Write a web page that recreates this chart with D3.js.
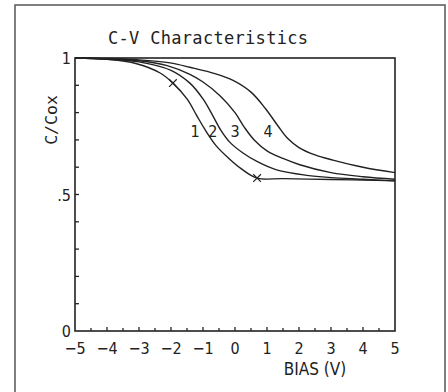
<!DOCTYPE html>
<html lang="en">
<head>
<meta charset="utf-8">
<title>C-V Characteristics</title>
<script src="https://cdn.jsdelivr.net/npm/d3@7"></script>
<style>
  body { margin: 0; background: #fff; }
  text { fill: #222; }
</style>
</head>
<body>
<script>
// curves: [bias (V), C/Cox]
var curve1 = [[-5, 1.0], [-4, 0.995], [-3.1, 0.98], [-2.34, 0.945], [-1.94, 0.908], [-1.5, 0.85],
              [-1.2, 0.79], [-0.95, 0.74], [-0.6, 0.68], [-0.2, 0.633], [0.2, 0.594], [0.69, 0.56],
              [1.5, 0.558], [3, 0.555], [4, 0.553], [5, 0.55]];
var curve2 = [[-5, 1.0], [-4, 0.996], [-3, 0.986], [-2, 0.955], [-1.41, 0.908], [-1.0, 0.85],
              [-0.7, 0.79], [-0.45, 0.737], [-0.15, 0.69], [0.25, 0.652], [0.7, 0.62], [1.3, 0.59],
              [2.25, 0.57], [3, 0.562], [4, 0.556], [5, 0.55]];
var curve3 = [[-5, 1.0], [-4, 0.997], [-3, 0.99], [-2.12, 0.972], [-1.41, 0.94], [-1.0, 0.912],
              [-0.47, 0.862], [0, 0.8], [0.3, 0.745], [0.6, 0.7], [1.0, 0.66], [1.5, 0.632],
              [2.0, 0.61], [3.0, 0.58], [4, 0.565], [5, 0.556]];
var curve4 = [[-5, 1.0], [-4, 0.998], [-3, 0.993], [-2.03, 0.982], [-1.41, 0.966], [-0.6, 0.942],
              [-0.06, 0.918], [0.5, 0.875], [0.95, 0.815], [1.35, 0.75], [1.65, 0.705], [2.0, 0.672],
              [2.5, 0.645], [3.06, 0.626], [4, 0.6], [5, 0.58]];
var curves = [curve1, curve2, curve3, curve4];
var curveLabels = ["1", "2", "3", "4"];
var labelAt = [[-1.25, 0.71], [-0.69, 0.71], [0.0, 0.71], [1.03, 0.71]];
var markers = [[-1.94, 0.908], [0.69, 0.56]];

var xTicks = [-5, -4, -3, -2, -1, 0, 1, 2, 3, 4, 5];
var yTickLabels = [[0, "0"], [0.5, ".5"], [1, "1"]];

var w = 448, h = 392;
var sans = "'DejaVu Sans Condensed', 'DejaVu Sans', sans-serif";
var mono = "'DejaVu Sans Mono', monospace";

var svg = d3.select("body").append("svg").attr("width", w).attr("height", h);

// outer box
svg.append("path")
   .attr("d", "M15,400 L15,5 L445,5 L445,400")
   .attr("fill", "none").attr("stroke", "#555").attr("stroke-width", 1.5);

var xScale = d3.scaleLinear().domain([-5, 5]).range([75, 395]);
var yScale = d3.scaleLinear().domain([0, 1]).range([331, 58]);

// plot frame
svg.append("rect")
   .attr("x", xScale(-5)).attr("y", yScale(1))
   .attr("width", xScale(5) - xScale(-5)).attr("height", yScale(0) - yScale(1))
   .attr("fill", "none").attr("stroke", "#222").attr("stroke-width", 1.6);

// inward ticks
svg.append("g").selectAll("line")
   .data(d3.range(-4.5, 5, 0.5))
   .enter().append("line")
   .attr("x1", function (d) { return xScale(d); })
   .attr("x2", function (d) { return xScale(d); })
   .attr("y1", yScale(0))
   .attr("y2", function (d) { return yScale(0) - (Number.isInteger(d) ? 4 : 3); })
   .attr("stroke", "#222").attr("stroke-width", 1.3);

svg.append("g").selectAll("line")
   .data(d3.range(0.1, 1, 0.1))
   .enter().append("line")
   .attr("y1", function (d) { return yScale(d); })
   .attr("y2", function (d) { return yScale(d); })
   .attr("x1", xScale(-5))
   .attr("x2", xScale(-5) + 4)
   .attr("stroke", "#222").attr("stroke-width", 1.3);

// tick labels
svg.append("g").selectAll("text")
   .data(xTicks)
   .enter().append("text")
   .attr("x", function (d) { return xScale(d); })
   .attr("y", 354)
   .attr("text-anchor", "middle")
   .style("font-family", sans)
   .style("font-size", "16px")
   .text(function (d) { return d < 0 ? "\u2212" + (-d) : d; });

svg.append("g").selectAll("text")
   .data(yTickLabels)
   .enter().append("text")
   .attr("x", xScale(-5) - 4)
   .attr("y", function (d) { return yScale(d[0]) + 6; })
   .attr("text-anchor", "end")
   .style("font-family", sans)
   .style("font-size", "16px")
   .text(function (d) { return d[1]; });

// titles
svg.append("text")
   .attr("x", 108).attr("y", 44)
   .attr("textLength", 200)
   .style("font-family", mono)
   .style("font-size", "17px")
   .text("C-V Characteristics");

svg.append("text")
   .attr("x", 315).attr("y", 375)
   .attr("text-anchor", "middle")
   .style("font-family", sans)
   .style("font-size", "17px")
   .text("BIAS (V)");

svg.append("text")
   .attr("transform", "translate(57,120) rotate(-90)")
   .attr("text-anchor", "middle")
   .style("font-family", mono)
   .style("font-size", "16.5px")
   .text("C/Cox");

// curves
var line = d3.line()
   .x(function (d) { return xScale(d[0]); })
   .y(function (d) { return yScale(d[1]); })
   .curve(d3.curveCatmullRom.alpha(0.5));

svg.append("g").selectAll("path")
   .data(curves)
   .enter().append("path")
   .attr("d", line)
   .attr("fill", "none").attr("stroke", "#222").attr("stroke-width", 1.4);

svg.append("g").selectAll("text")
   .data(labelAt)
   .enter().append("text")
   .attr("x", function (d) { return xScale(d[0]); })
   .attr("y", function (d) { return yScale(d[1]); })
   .attr("text-anchor", "middle")
   .style("font-family", sans)
   .style("font-size", "16px")
   .text(function (d, i) { return curveLabels[i]; });

// x markers
var cross = d3.symbol().type(d3.symbolX).size(40);
svg.append("g").selectAll("path")
   .data(markers)
   .enter().append("path")
   .attr("transform", function (d) { return "translate(" + xScale(d[0]) + "," + yScale(d[1]) + ")"; })
   .attr("d", cross)
   .attr("fill", "none").attr("stroke", "#222").attr("stroke-width", 1.2);
</script>
</body>
</html>
